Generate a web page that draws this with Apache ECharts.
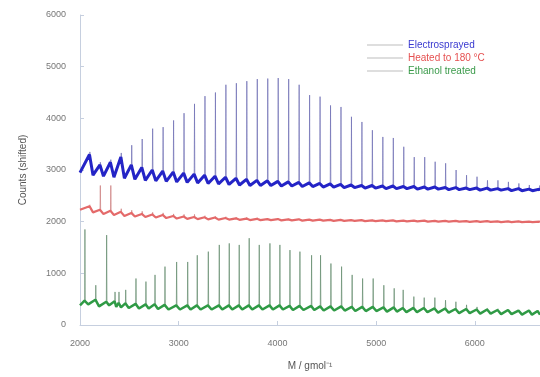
<!DOCTYPE html>
<html><head><meta charset="utf-8">
<script src="https://cdn.jsdelivr.net/npm/echarts@6/dist/echarts.min.js"></script>
<style>html,body{margin:0;padding:0;background:#fff}#c{width:540px;height:377px}</style>
</head><body><div id="c"></div>
<script>
// ---- data ----
const seriesNames = ['Electrosprayed', 'Heated to 180 °C', 'Ethanol treated'];
const xTicks = [2000, 3000, 4000, 5000, 6000];
const yTicks = [0, 1000, 2000, 3000, 4000, 5000, 6000];

// oligomer peak positions (g/mol) for Electrosprayed / Heated
const massGrid = [2100, 2206, 2312, 2418, 2524, 2630, 2736, 2842, 2948, 3054,
  3160, 3266, 3372, 3478, 3584, 3690, 3796, 3902, 4008, 4114,
  4220, 4326, 4432, 4538, 4644, 4750, 4856, 4962, 5068, 5174,
  5280, 5386, 5492, 5598, 5704, 5810, 5916, 6022, 6128, 6234,
  6340, 6446, 6552, 6658];

const electroPeak = [3350, 3150, 3200, 3330, 3480, 3600, 3800, 3830, 3960, 4100,
  4280, 4430, 4500, 4650, 4680, 4720, 4760, 4770, 4780, 4760,
  4650, 4450, 4420, 4250, 4220, 4030, 3930, 3770, 3640, 3620,
  3450, 3250, 3250, 3160, 3130, 3000, 2900, 2870, 2800, 2800,
  2770, 2740, 2710, 2700];
const electroFoot = [3300, 3100, 3150, 3250, 3100, 3050, 3000, 2980, 2960, 2940,
  2920, 2900, 2880, 2860, 2840, 2820, 2800, 2790, 2780, 2770,
  2760, 2750, 2740, 2730, 2720, 2710, 2700, 2700, 2690, 2690,
  2680, 2680, 2670, 2670, 2660, 2660, 2650, 2650, 2650, 2640,
  2640, 2640, 2630, 2630];
const electroBase = [2950, 2900, 2880, 2860, 2840, 2820, 2800, 2790, 2780, 2770,
  2760, 2750, 2740, 2730, 2720, 2710, 2700, 2700, 2700, 2690,
  2690, 2680, 2680, 2670, 2670, 2660, 2660, 2650, 2650, 2640,
  2640, 2640, 2630, 2630, 2630, 2620, 2620, 2620, 2610, 2610,
  2610, 2600, 2600, 2600];

const heatedPeak = [2330, 2700, 2700, 2250, 2220, 2200, 2180, 2170, 2150, 2140,
  2140, 2120, 2110, 2100, 2090, 2090, 2080, 2070, 2070, 2060,
  2060, 2050, 2050, 2050, 2040, 2040, 2040, 2040, 2030, 2030,
  2030, 2030, 2030, 2020, 2020, 2020, 2020, 2020, 2010, 2010,
  2010, 2010, 2010, 2010];
const heatedFoot = [2300, 2230, 2210, 2190, 2170, 2150, 2140, 2130, 2110, 2100,
  2090, 2085, 2080, 2070, 2065, 2060, 2055, 2050, 2050, 2045,
  2045, 2040, 2040, 2035, 2035, 2030, 2030, 2025, 2025, 2025,
  2020, 2020, 2020, 2015, 2015, 2015, 2010, 2010, 2010, 2005,
  2005, 2005, 2000, 2000];
const heatedBase = [2230, 2180, 2150, 2130, 2110, 2100, 2090, 2080, 2070, 2060,
  2055, 2050, 2045, 2040, 2040, 2035, 2030, 2030, 2030, 2025,
  2025, 2020, 2020, 2020, 2015, 2015, 2015, 2010, 2010, 2010,
  2005, 2005, 2005, 2000, 2000, 2000, 2000, 1995, 1995, 1995,
  1990, 1990, 1990, 1990];

// Ethanol treated peaks (g/mol)
const ethanolMass = [2050, 2160, 2270, 2355, 2395, 2463, 2567, 2668, 2760, 2861,
  2979, 3091, 3188, 3300, 3411, 3512, 3613, 3714, 3816, 3924,
  4025, 4127, 4228, 4346, 4437, 4542, 4650, 4757, 4863, 4970,
  5078, 5183, 5274, 5382, 5487, 5595, 5703, 5808, 5916, 6022,
  6128, 6234, 6340, 6446, 6552, 6640];
const ethanolPeak = [1850, 770, 1740, 640, 640, 680, 900, 840, 970, 1130,
  1220, 1220, 1350, 1420, 1550, 1580, 1550, 1680, 1550, 1580,
  1550, 1450, 1420, 1350, 1350, 1190, 1130, 970, 900, 900,
  770, 710, 680, 550, 530, 530, 480, 450, 390, 350,
  330, 320, 300, 290, 260, 240];
const ethanolFoot = [470, 490, 450, 460, 430, 420, 410, 400, 400, 390,
  380, 380, 380, 380, 380, 380, 380, 380, 380, 380,
  380, 370, 370, 370, 360, 360, 360, 350, 350, 350,
  340, 340, 330, 330, 330, 320, 320, 310, 310, 300,
  300, 290, 290, 280, 280, 270];
const ethanolBase = [380, 400, 360, 380, 350, 340, 330, 320, 320, 310,
  300, 300, 300, 300, 300, 300, 300, 300, 300, 300,
  300, 300, 290, 290, 290, 280, 280, 280, 270, 270,
  270, 260, 260, 250, 250, 250, 240, 240, 230, 230,
  220, 220, 210, 210, 200, 200];

const X_MIN = 2000, X_MAX = 6660;

// ---- build line data from the arrays ----
function bandData(mass, foot, base) {
  const pts = [[X_MIN, base[0]]];
  for (let i = 0; i < mass.length; i++) {
    pts.push([mass[i] - 4, foot[i]]);
    if (i < mass.length - 1) {
      pts.push([mass[i] + (mass[i + 1] - mass[i]) * 0.3, base[i + 1]]);
    } else {
      pts.push([X_MAX, base[i]]);
    }
  }
  return pts;
}
function spikeData(mass, foot, peak) {
  const pts = [];
  for (let i = 0; i < mass.length; i++) {
    pts.push([mass[i] - 3, foot[i]], [mass[i], peak[i]], [mass[i] + 3, foot[i]], [mass[i] + 4, null]);
  }
  return pts;
}

const colors = {
  band: ['#2424c6', '#e46a6a', '#2f9a45'],
  spike: ['rgba(110,110,180,0.7)', 'rgba(205,130,130,0.75)', 'rgba(100,140,110,0.7)'],
  text: ['#3a3ad0', '#e55050', '#3a9a4a']
};

function mk(name, data, color, width, z) {
  return {
    name, type: 'line', data, symbol: 'none', showSymbol: false, z,
    connectNulls: false, animation: false, silent: true,
    lineStyle: { color, width }, itemStyle: { color }
  };
}

const series = [
  mk(seriesNames[0], spikeData(massGrid, electroFoot, electroPeak), colors.spike[0], 1, 2),
  mk(seriesNames[1], spikeData(massGrid, heatedFoot, heatedPeak), colors.spike[1], 1, 2),
  mk(seriesNames[2], spikeData(ethanolMass, ethanolFoot, ethanolPeak), colors.spike[2], 1, 2),
  mk(seriesNames[0], bandData(massGrid, electroFoot, electroBase), colors.band[0], 3, 3),
  mk(seriesNames[1], bandData(massGrid, heatedFoot, heatedBase), colors.band[1], 2.2, 3),
  mk(seriesNames[2], bandData(ethanolMass, ethanolFoot, ethanolBase), colors.band[2], 2.5, 3)
];

const chart = echarts.init(document.getElementById('c'), null, { renderer: 'canvas' });
const font = 'Liberation Sans, Arial, sans-serif';
chart.setOption({
  animation: false,
  backgroundColor: '#fff',
  grid: { left: 80, right: 0, top: 15, bottom: 52, containLabel: false },
  legend: {
    orient: 'vertical', left: 367, top: 40, itemWidth: 36, itemHeight: 1, itemGap: 3, padding: 0,
    icon: 'rect',
    itemStyle: { color: '#bdbdbd', borderWidth: 0 },
    textStyle: { fontFamily: font, fontSize: 10, lineHeight: 10 },
    data: seriesNames.map((n, i) => ({ name: n, icon: 'rect', textStyle: { color: colors.text[i] } }))
  },
  xAxis: {
    type: 'value', min: X_MIN, max: X_MAX, interval: 1000,
    name: 'M / gmol⁻¹', nameLocation: 'middle', nameGap: 36,
    nameTextStyle: { fontFamily: font, fontSize: 10, color: '#555' },
    axisLine: { lineStyle: { color: '#c6cfdf', width: 1 } },
    axisTick: { inside: true, length: 4, lineStyle: { color: '#c6cfdf' } },
    axisLabel: { fontFamily: font, fontSize: 9, color: '#777', margin: 14, showMaxLabel: false,
      formatter: v => xTicks.includes(v) ? String(v) : '' },
    splitLine: { show: false }
  },
  yAxis: {
    type: 'value', min: 0, max: 6000, interval: 1000,
    name: 'Counts (shifted)', nameLocation: 'middle', nameGap: 52,
    nameTextStyle: { fontFamily: font, fontSize: 10, color: '#555' },
    axisLine: { show: true, lineStyle: { color: '#c6cfdf', width: 1 } },
    axisTick: { show: true, inside: true, length: 4, lineStyle: { color: '#c6cfdf' } },
    axisLabel: { fontFamily: font, fontSize: 9, color: '#777', margin: 14,
      formatter: v => yTicks.includes(v) ? String(v) : '' },
    splitLine: { show: false }
  },
  series
});
</script></body></html>
